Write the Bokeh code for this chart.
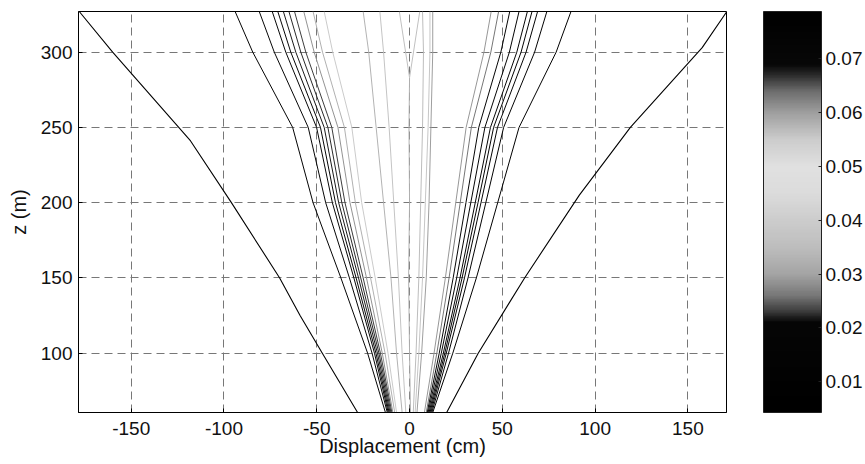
import numpy as np
from bokeh.plotting import figure
from bokeh.models import ColumnDataSource, LinearColorMapper, ColorBar, FixedTicker, Range1d
from bokeh.embed import file_html
from bokeh.resources import INLINE

# ---- data ----
z_levels = [60.6, 100, 150, 200, 250, 300, 327]

left_outer_z = [60.6, 100, 125, 150, 200, 241, 300, 327]
left_outer_x = [-28, -47, -59, -70, -96, -118, -160, -178]
right_outer_z = [60.6, 100, 150, 205, 250, 303, 327]
right_outer_x = [20, 37, 62, 91.5, 119, 157.7, 171]
outer_values = [0.077, 0.006]

left_lines = [
    [-13, -22.6, -37, -52, -63, -84.5, -94],
    [-12, -20.2, -32.4, -45.2, -54.6, -72.9, -81],
    [-11.5, -18.9, -30, -41.6, -50.1, -66.7, -74],
    [-11, -18.1, -28.8, -39.9, -48, -64, -71],
    [-10.5, -17.3, -27.5, -38.2, -46, -61.3, -68],
    [-10, -16.5, -26.3, -36.5, -44, -58.6, -65],
    [-9.5, -15.7, -25, -34.8, -41.9, -55.9, -62],
    [-9, -14.7, -23.2, -32.1, -38.6, -51.4, -57],
    [-8, -13.2, -21, -29.2, -35.1, -46.9, -52],
    [-7, -11.6, -18.5, -25.8, -31.1, -41.4, -46],
]
left_values = [0.073, 0.071, 0.070, 0.069, 0.068, 0.067, 0.066, 0.061, 0.058, 0.055]

right_lines = [
    [12.5, 23.3, 36, 47.5, 59, 79, 87],
    [12, 21, 31.5, 41.1, 50.7, 67.4, 74],
    [11.5, 19.8, 29.6, 38.5, 47.4, 62.8, 69],
    [11, 19, 28.3, 36.9, 45.3, 60.1, 66],
    [10.5, 18.2, 27.2, 35.4, 43.6, 57.8, 63.5],
    [10, 17.1, 25.4, 33, 40.6, 53.8, 59],
    [9.5, 16, 23.5, 30.4, 37.3, 49.2, 54],
    [9, 14.7, 21.3, 27.3, 33.3, 43.8, 48],
    [8, 13.2, 19.3, 24.9, 30.5, 40.1, 44],
]
right_values = [0.010, 0.014, 0.016, 0.018, 0.019, 0.020, 0.021, 0.026, 0.029]

central_lines = [
    [-4, -7, -10, -14, -18, -22, -25],
    [-2, -4, -6, -8.5, -11, -14, -16],
    [2, 3.5, 5, 6, 7, 7.5, 7],
    [3, 5, 7, 8.5, 10, 11, 11],
    [4, 6.5, 9, 10.5, 11.5, 12.5, 12.5],
]
central_values = [0.033, 0.037, 0.035, 0.038, 0.060]

stem_z = [60.6, 100, 150, 200, 250, 283]
stem_x = [0.5, 0, -0.5, 0, -0.3, 0]
v_z = [283, 327]
v_left_x = [0, -5.5]
v_right_x = [0, 5.5]
stem_values = [0.032, 0.036, 0.036]

x_ticks = [-150, -100, -50, 0, 50, 100, 150]
x_tick_labels = ["-150", "-100", "-50", "0", "50", "100", "150"]
y_ticks = [100, 150, 200, 250, 300]
cbar_ticks = [0.01, 0.02, 0.03, 0.04, 0.05, 0.06, 0.07]
cbar_low, cbar_high = 0.0043, 0.0788

# ---- colormap (dark at both ends, light in the middle) ----
anchor_v = [0.0043, 0.021, 0.023, 0.026, 0.030, 0.035, 0.040, 0.045, 0.050,
            0.055, 0.060, 0.064, 0.067, 0.069, 0.0788]
anchor_g = [0, 6, 60, 120, 165, 190, 205, 220, 225, 205, 160, 110, 45, 8, 0]
vals = np.linspace(cbar_low, cbar_high, 256)
grays = np.interp(vals, anchor_v, anchor_g).astype(int)
palette = ["#%02x%02x%02x" % (g, g, g) for g in grays]

xs, ys, cv, lw = [], [], [], []
xs.append(left_outer_x); ys.append(left_outer_z); cv.append(outer_values[0]); lw.append(1.1)
xs.append(right_outer_x); ys.append(right_outer_z); cv.append(outer_values[1]); lw.append(1.1)
for xl, v in zip(left_lines, left_values):
    xs.append(xl); ys.append(z_levels); cv.append(v); lw.append(1.0)
for xl, v in zip(right_lines, right_values):
    xs.append(xl); ys.append(z_levels); cv.append(v); lw.append(1.0)
for xl, v in zip(central_lines, central_values):
    xs.append(xl); ys.append(z_levels); cv.append(v); lw.append(1.0)
xs.append(stem_x); ys.append(stem_z); cv.append(stem_values[0]); lw.append(1.0)
xs.append(v_left_x); ys.append(v_z); cv.append(stem_values[1]); lw.append(1.0)
xs.append(v_right_x); ys.append(v_z); cv.append(stem_values[2]); lw.append(1.0)

src = ColumnDataSource(dict(xs=xs, ys=ys, val=cv, lw=lw))

FONT = "Liberation Sans"
FS = "19px"

p = figure(width=865, height=464, output_backend="svg", toolbar_location=None,
           x_range=Range1d(-178.4, 170.8), y_range=Range1d(60.6, 327),
           min_border_left=78, min_border_right=138, min_border_top=11, min_border_bottom=52)

mapper = LinearColorMapper(palette=palette, low=cbar_low, high=cbar_high)
p.multi_line(xs="xs", ys="ys", source=src, line_width="lw",
             line_color={"field": "val", "transform": mapper})

for ax, ticks in ((p.xaxis[0], x_ticks), (p.yaxis[0], y_ticks)):
    ax.ticker = FixedTicker(ticks=ticks)
    ax.major_label_text_font = FONT
    ax.major_label_text_font_size = FS
    ax.major_label_text_color = "#111111"
    ax.axis_label_text_font = FONT
    ax.axis_label_text_font_size = "20px"
    ax.axis_label_text_font_style = "normal"
    ax.axis_label_text_color = "#111111"
    ax.major_tick_in = 4
    ax.major_tick_out = 0
    ax.minor_tick_line_color = None
    ax.axis_line_color = "black"
    ax.major_tick_line_color = "black"

p.xaxis.major_label_overrides = {t: s for t, s in zip(x_ticks, x_tick_labels)}
p.xaxis.axis_label = "Displacement (cm)"
p.yaxis.axis_label = "z (m)"
p.xaxis.major_label_standoff = 9
p.xaxis.axis_label_standoff = -3
p.yaxis.major_label_standoff = 6
p.yaxis.axis_label_standoff = 8

for g in (p.xgrid[0], p.ygrid[0]):
    g.grid_line_color = "#777777"
    g.grid_line_dash = "8 5"
    g.grid_line_width = 1
p.xgrid.ticker = FixedTicker(ticks=x_ticks)
p.ygrid.ticker = FixedTicker(ticks=y_ticks)

p.outline_line_color = "black"
p.outline_line_width = 1
p.background_fill_color = "white"
p.border_fill_color = "white"

cb = ColorBar(color_mapper=mapper, ticker=FixedTicker(ticks=cbar_ticks),
              width=58, height=401, padding=0, margin=0, location=(37, 0),
              major_label_text_font=FONT, major_label_text_font_size=FS,
              major_label_text_color="#111111",
              major_tick_line_color="#222222", major_tick_in=3, major_tick_out=0,
              minor_tick_line_color=None, label_standoff=4,
              bar_line_color="#222222", border_line_color=None,
              background_fill_color=None)
p.add_layout(cb, "right")

open("out.html", "w").write(file_html(p, INLINE))
